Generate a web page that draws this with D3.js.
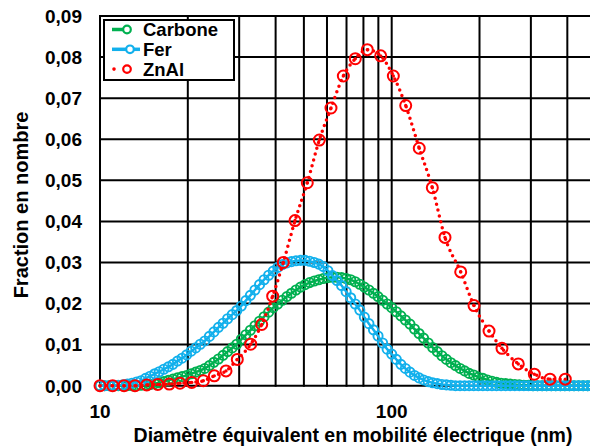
<!DOCTYPE html>
<html>
<head>
<meta charset="utf-8">
<script src="https://cdn.jsdelivr.net/npm/d3@7"></script>
<style>
  body { margin: 0; background: #fff; }
  text { font-family: "Liberation Sans", Arial, sans-serif; font-weight: bold; fill: #000; }
</style>
</head>
<body>
<div id="chart"></div>
<script>
// channel diameters (nm) shared by Carbone and Fer
const diam = [
  10.00, 10.37, 10.75, 11.14, 11.55, 11.97, 12.41, 12.86, 13.34, 13.82,
  14.33, 14.86, 15.40, 15.96, 16.55, 17.15, 17.78, 18.43, 19.11, 19.81,
  20.54, 21.29, 22.07, 22.88, 23.71, 24.58, 25.48, 26.42, 27.38, 28.39,
  29.43, 30.51, 31.62, 32.78, 33.98, 35.23, 36.52, 37.86, 39.24, 40.68,
  42.17, 43.71, 45.32, 46.98, 48.70, 50.48, 52.33, 54.25, 56.23, 58.29,
  60.43, 62.64, 64.94, 67.32, 69.78, 72.34, 74.99, 77.74, 80.58, 83.54,
  86.60, 89.77, 93.06, 96.47, 100.0, 103.7, 107.5, 111.4, 115.5, 119.7,
  124.1, 128.6, 133.4, 138.2, 143.3, 148.6, 154.0, 159.6, 165.5, 171.5,
  177.8, 184.3, 191.1, 198.1, 205.4, 212.9, 220.7, 228.8, 237.1, 245.8,
  254.8, 264.2, 273.8, 283.9, 294.3, 305.1, 316.2, 327.8, 339.8, 352.3,
  365.2, 378.6, 392.4, 406.8, 421.7, 437.1, 453.2, 469.8, 487.0, 504.8
];

const carbone = [
  0, 0, 0, 0, 0, 0, 0, 0, 0, 0.0001,
  0.0002, 0.0003, 0.0005, 0.0007, 0.0010, 0.0013, 0.0016, 0.0019, 0.0022, 0.0025,
  0.0029, 0.0033, 0.0037, 0.0042, 0.0049, 0.0057, 0.0065, 0.0074, 0.0083, 0.0092,
  0.0101, 0.0113, 0.0124, 0.0135, 0.0146, 0.0157, 0.0168, 0.0179, 0.0190, 0.0199,
  0.0208, 0.0217, 0.0225, 0.0233, 0.0240, 0.0246, 0.0251, 0.0255, 0.0258, 0.0261,
  0.0263, 0.0264, 0.0264, 0.0263, 0.0261, 0.0258, 0.0253, 0.0247, 0.0240, 0.0233,
  0.0225, 0.0217, 0.0208, 0.0199, 0.0190, 0.0180, 0.0170, 0.0160, 0.0150, 0.0138,
  0.0127, 0.0116, 0.0104, 0.0093, 0.0083, 0.0073, 0.0064, 0.0056, 0.0049, 0.0042,
  0.0036, 0.0030, 0.0026, 0.0021, 0.0018, 0.0014, 0.0011, 0.0008, 0.0006, 0.0005,
  0.0004, 0.0003, 0.0002, 0.0001, 0.0001, 0, 0, 0, 0, 0,
  0, 0, 0, 0, 0, 0, 0, 0, 0, 0
];

const fer = [
  0, 0, 0, 0, 0.0001, 0.0002, 0.0004, 0.0006, 0.0009, 0.0012,
  0.0018, 0.0023, 0.0029, 0.0034, 0.0040, 0.0046, 0.0052, 0.0060, 0.0067, 0.0075,
  0.0084, 0.0092, 0.0101, 0.0109, 0.0120, 0.0131, 0.0142, 0.0152, 0.0163, 0.0173,
  0.0183, 0.0194, 0.0207, 0.0220, 0.0233, 0.0246, 0.0258, 0.0269, 0.0279, 0.0288,
  0.0295, 0.0299, 0.0302, 0.0304, 0.0305, 0.0305, 0.0303, 0.0300, 0.0296, 0.0290,
  0.0280, 0.0268, 0.0256, 0.0244, 0.0229, 0.0214, 0.0199, 0.0184, 0.0167, 0.0151,
  0.0136, 0.0121, 0.0104, 0.0089, 0.0077, 0.0064, 0.0052, 0.0042, 0.0033, 0.0025,
  0.0019, 0.0014, 0.0010, 0.0007, 0.0005, 0.0003, 0.0002, 0.0001, 0, 0,
  0, 0, 0, 0, 0, 0, 0, 0, 0, 0,
  0, 0, 0, 0, 0, 0, 0, 0, 0, 0,
  0, 0, 0, 0, 0, 0, 0, 0, 0, 0
];

const znalDiam = [
  10.0, 11.05, 12.09, 13.18, 14.46, 15.77, 17.28, 18.80, 20.63, 22.61,
  24.65, 27.04, 29.56, 32.86, 35.84, 39.08, 42.50, 46.62, 51.36, 56.47,
  61.93, 68.26, 75.04, 82.49, 91.68, 101.3, 111.7, 124.3, 137.8, 152.3,
  172.4, 191.5, 215.6, 238.8, 271.6, 308.3, 348.9, 393.6
];
const znal = [
  0, 0, 0, 0, 0.0002, 0.0003, 0.0004, 0.0006, 0.0008, 0.0012,
  0.0024, 0.0036, 0.0064, 0.0101, 0.0149, 0.0218, 0.0300, 0.0402, 0.0494, 0.0598,
  0.0676, 0.0754, 0.0796, 0.0818, 0.0803, 0.0754, 0.0682, 0.0578, 0.0482, 0.0361,
  0.0277, 0.0195, 0.0133, 0.0091, 0.0053, 0.0028, 0.0016, 0.0016
];

const yTicks = [0, 0.01, 0.02, 0.03, 0.04, 0.05, 0.06, 0.07, 0.08, 0.09];
const xGrid = [10, 20, 30, 40, 50, 60, 70, 80, 90, 100, 200, 300, 400, 500, 600, 700, 800, 900, 1000];
const xLabels = [10, 100];

const seriesNames = ["Carbone", "Fer", "ZnAl"];
const colors = { Carbone: "#00b050", Fer: "#12b0ec", ZnAl: "#ff0000" };

const width = 590;
const height = 448;
const plotLeft = 100, plotTop = 16, plotBottom = 385.7;

const svg = d3.select("#chart")
    .append("svg")
    .attr("width", width)
    .attr("height", height);

const x = d3.scaleLog()
    .domain([10, 1000])
    .range([plotLeft, plotLeft + 2 * 291.7]);

const y = d3.scaleLinear()
    .domain([0, 0.09])
    .range([plotBottom, plotTop]);

const grid = svg.append("g").attr("stroke", "#000").attr("stroke-width", 2);

grid.selectAll(".hline")
    .data(yTicks)
    .enter()
    .append("line")
    .attr("x1", plotLeft)
    .attr("x2", width + 20)
    .attr("y1", d => y(d))
    .attr("y2", d => y(d));

grid.selectAll(".vline")
    .data(xGrid)
    .enter()
    .append("line")
    .attr("x1", d => x(d))
    .attr("x2", d => x(d))
    .attr("y1", plotTop - 1)
    .attr("y2", plotBottom + 1);

const fmt = d3.format(".2f");
svg.selectAll(".ylab")
    .data(yTicks)
    .enter()
    .append("text")
    .attr("x", 82)
    .attr("y", d => y(d))
    .attr("dy", "0.36em")
    .attr("text-anchor", "end")
    .style("font-size", "19px")
    .text(d => fmt(d).replace(".", ","));

svg.selectAll(".xlab")
    .data(xLabels)
    .enter()
    .append("text")
    .attr("x", d => x(d))
    .attr("y", 418)
    .attr("text-anchor", "middle")
    .style("font-size", "19px")
    .text(d => d);

svg.append("text")
    .attr("x", 353)
    .attr("y", 442)
    .attr("text-anchor", "middle")
    .style("font-size", "19.5px")
    .text("Diamètre équivalent en mobilité électrique (nm)");

svg.append("text")
    .attr("transform", "translate(28,205) rotate(-90)")
    .attr("text-anchor", "middle")
    .style("font-size", "20px")
    .text("Fraction en nombre");

// dense series: Carbone and Fer
function drawDense(values, name) {
    const pts = diam.map((d, i) => ({ d: d, v: values[i] }));
    const g = svg.append("g");
    g.append("path")
        .datum(pts)
        .attr("fill", "none")
        .attr("stroke", colors[name])
        .attr("stroke-width", 2.5)
        .attr("d", d3.line().x(p => x(p.d)).y(p => y(p.v)));
    g.selectAll("circle")
        .data(pts)
        .enter()
        .append("circle")
        .attr("cx", p => x(p.d))
        .attr("cy", p => y(p.v))
        .attr("r", 4.6)
        .attr("fill", "none")
        .attr("stroke", colors[name])
        .attr("stroke-width", 1.9);
}

drawDense(carbone, "Carbone");
drawDense(fer, "Fer");

const zPts = znalDiam.map((d, i) => ({ d: d, v: znal[i] }));
const zg = svg.append("g");
zg.append("path")
    .datum(zPts)
    .attr("fill", "none")
    .attr("stroke", colors.ZnAl)
    .attr("stroke-width", 3.5)
    .attr("stroke-linecap", "round")
    .attr("stroke-dasharray", "0,6")
    .attr("d", d3.line().curve(d3.curveMonotoneX).x(p => x(p.d)).y(p => y(p.v)));
zg.selectAll(".zc")
    .data(zPts)
    .enter()
    .append("circle")
    .attr("cx", p => x(p.d))
    .attr("cy", p => y(p.v))
    .attr("r", 5.5)
    .attr("fill", "none")
    .attr("stroke", colors.ZnAl)
    .attr("stroke-width", 2);
zg.selectAll(".zd")
    .data(zPts)
    .enter()
    .append("circle")
    .attr("cx", p => x(p.d))
    .attr("cy", p => y(p.v))
    .attr("r", 1.7)
    .attr("fill", colors.ZnAl);

// legend
const lg = svg.append("g");
lg.append("rect")
    .attr("x", 104)
    .attr("y", 20)
    .attr("width", 130)
    .attr("height", 60)
    .attr("fill", "#fff")
    .attr("stroke", "#000")
    .attr("stroke-width", 2);

const rows = lg.selectAll(".row")
    .data(seriesNames)
    .enter()
    .append("g")
    .attr("transform", (d, i) => `translate(0, ${29.5 + i * 19.8})`);

rows.filter(d => d !== "ZnAl")
    .append("line")
    .attr("x1", 112)
    .attr("x2", d => d === "Fer" ? 140 : 126)
    .attr("stroke", d => colors[d])
    .attr("stroke-width", 3.5);

rows.filter(d => d === "ZnAl")
    .append("circle")
    .attr("cx", 114)
    .attr("r", 1.8)
    .attr("fill", colors.ZnAl);

rows.append("circle")
    .attr("cx", d => d === "Fer" ? 130 : 127)
    .attr("r", 3.8)
    .attr("fill", "#fff")
    .attr("stroke", d => colors[d])
    .attr("stroke-width", 2.2);

rows.append("text")
    .attr("x", 143)
    .attr("dy", "0.35em")
    .style("font-size", "18.5px")
    .text(d => d);
</script>
</body>
</html>
